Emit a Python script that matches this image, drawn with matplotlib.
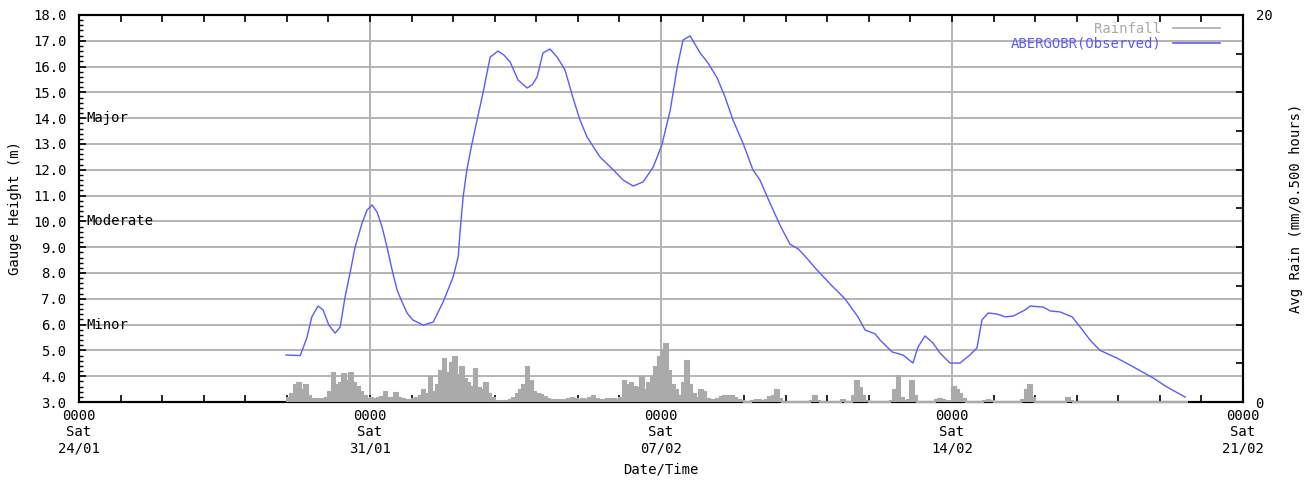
import matplotlib
matplotlib.use("Agg")
import matplotlib.pyplot as plt
import matplotlib.dates as mdates
from matplotlib.lines import Line2D
from matplotlib.ticker import MultipleLocator, FormatStrFormatter
import numpy as np
from datetime import datetime

plt.rcParams['font.family'] = ['DejaVu Sans Mono']
plt.rcParams['font.size'] = 10

start = datetime(2015, 1, 24)
end = datetime(2015, 2, 21)

# gauge readings: days after start, height in metres
obs_days = [4.98, 5.32, 5.48, 5.60, 5.75, 5.87, 6.01, 6.16, 6.28, 6.40,
            6.52, 6.64, 6.81, 6.93, 7.05, 7.17, 7.29, 7.41, 7.53, 7.65,
            7.77, 7.89, 8.03, 8.28, 8.52, 8.76, 9.00, 9.12, 9.17, 9.24,
            9.33, 9.45, 9.72, 9.89, 10.08, 10.22, 10.37, 10.56, 10.78, 10.90,
            11.02, 11.16, 11.33, 11.50, 11.69, 11.88, 12.05, 12.22, 12.53, 12.85,
            13.09, 13.33, 13.57, 13.81, 14.02, 14.22, 14.39, 14.53, 14.70, 14.94,
            15.13, 15.35, 15.54, 15.73, 15.97, 16.21, 16.38, 16.62, 16.86, 17.10,
            17.30, 17.46, 17.71, 18.07, 18.43, 18.74, 18.91, 19.15, 19.27, 19.56,
            19.82, 20.06, 20.18, 20.35, 20.54, 20.71, 20.95, 21.19, 21.43, 21.60,
            21.72, 21.87, 22.08, 22.28, 22.47, 22.76, 22.88, 23.19, 23.36, 23.60,
            23.89, 24.08, 24.32, 24.56, 24.97, 25.36, 25.84, 26.17, 26.61]
obs_level = [4.82, 4.80, 5.48, 6.30, 6.72, 6.57, 5.98, 5.67, 5.90, 7.07,
             8.00, 9.00, 9.94, 10.44, 10.64, 10.36, 9.78, 9.00, 8.12, 7.34,
             6.88, 6.45, 6.18, 5.98, 6.10, 6.88, 7.85, 8.62, 9.67, 10.95,
             12.00, 13.00, 15.00, 16.37, 16.60, 16.45, 16.18, 15.48, 15.17, 15.29,
             15.60, 16.53, 16.68, 16.37, 15.87, 14.80, 13.93, 13.27, 12.50, 12.00,
             11.60, 11.37, 11.53, 12.10, 12.96, 14.30, 15.98, 17.03, 17.19, 16.53,
             16.14, 15.56, 14.82, 13.93, 13.04, 12.00, 11.60, 10.71, 9.86, 9.12,
             8.93, 8.66, 8.19, 7.57, 6.99, 6.29, 5.79, 5.64, 5.40, 4.94,
             4.82, 4.51, 5.13, 5.56, 5.29, 4.90, 4.51, 4.51, 4.82, 5.10,
             6.18, 6.45, 6.41, 6.30, 6.33, 6.57, 6.72, 6.68, 6.53, 6.49,
             6.30, 5.91, 5.40, 5.00, 4.70, 4.36, 3.93, 3.58, 3.19]

# rainfall in 2-hour bins from day 5, one row per day
rain_start_day = 5.0
rain_step_hours = 2
rain_mm = [
    0.2, 0.4, 0.9, 1.0, 0.6, 0.9, 0.3, 0.15, 0.15, 0.15, 0.15, 0.2,
    0.5, 1.5, 0.9, 1.0, 1.45, 1.1, 1.5, 1.0, 0.8, 0.5, 0.3, 0.15,
    0.2, 0.15, 0.2, 0.25, 0.5, 0.2, 0.2, 0.45, 0.2, 0.15, 0.1, 0.1,
    0.15, 0.2, 0.3, 0.6, 0.4, 1.3, 0.5, 0.9, 1.6, 2.2, 1.5, 2.0,
    2.3, 1.4, 1.8, 1.2, 1.0, 0.8, 1.7, 0.7, 0.6, 1.0, 0.4, 0.2,
    0.05, 0.03, 0.03, 0.05, 0.1, 0.2, 0.4, 0.6, 0.9, 1.8, 1.1, 0.5,
    0.4, 0.35, 0.25, 0.15, 0.1, 0.1, 0.1, 0.12, 0.1, 0.15, 0.2, 0.15,
    0.1, 0.15, 0.1, 0.2, 0.3, 0.15, 0.1, 0.1, 0.15, 0.15, 0.15, 0.1,
    0.2, 1.1, 0.9, 1.0, 0.8, 0.7, 1.3, 0.6, 1.0, 1.3, 1.8, 2.3,
    2.7, 3.0, 1.6, 0.9, 0.6, 0.3, 1.0, 2.1, 0.9, 0.4, 0.2, 0.6,
    0.5, 0.15, 0.1, 0.1, 0.15, 0.25, 0.3, 0.3, 0.3, 0.2, 0.1, 0.05,
    0.02, 0.02, 0.05, 0.08, 0.08, 0.05, 0.1, 0.25, 0.3, 0.6, 0.15, 0.02,
    0.02, 0.0, 0.0, 0.0, 0.0, 0.0, 0.0, 0.05, 0.3, 0.05, 0.0, 0.0,
    0.0, 0.0, 0.0, 0.0, 0.1, 0.0, 0.0, 0.3, 1.1, 0.7, 0.3, 0.05,
    0.0, 0.0, 0.0, 0.0, 0.0, 0.0, 0.05, 0.6, 1.35, 0.2, 0.05, 0.1,
    1.1, 0.3, 0.0, 0.0, 0.0, 0.0, 0.0, 0.1, 0.15, 0.1, 0.05, 0.05,
    0.8, 0.6, 0.4, 0.15, 0.02, 0.0, 0.0, 0.0, 0.0, 0.05, 0.08, 0.05,
    0.0, 0.0, 0.0, 0.0, 0.0, 0.0, 0.0, 0.0, 0.1, 0.6, 0.9, 0.2,
    0.0, 0.0, 0.0, 0.0, 0.0, 0.0, 0.0, 0.0, 0.0, 0.2, 0.05, 0.0,
    0.0, 0.0, 0.0, 0.0, 0.0, 0.0, 0.0, 0.0, 0.0, 0.0, 0.0, 0.0,
    0.0, 0.0, 0.0, 0.0, 0.0, 0.0, 0.0, 0.0, 0.0, 0.0, 0.0, 0.0,
    0.0, 0.0, 0.0, 0.0, 0.0, 0.0, 0.0, 0.0,
]

flood_levels = [6.0, 10.0, 14.0]
flood_names = ["Minor", "Moderate", "Major"]

obs_color = "#5a5aff"
rain_color = "#aaaaaa"
grid_color = "#b4b4b4"

t0 = mdates.date2num(start)
obs_x = t0 + np.array(obs_days)
rain_edges = t0 + rain_start_day + np.arange(len(rain_mm) + 1) * rain_step_hours / 24.0

fig = plt.figure(figsize=(13.06, 4.83), dpi=100)
ax = fig.add_axes([0.0605, 0.1677, 0.8913, 0.8013])
ax2 = ax.twinx()

# level axis
ax.set_ylim(3.0, 18.0)
ax.yaxis.set_major_locator(MultipleLocator(1.0))
ax.yaxis.set_minor_locator(MultipleLocator(0.2))
ax.yaxis.set_major_formatter(FormatStrFormatter("%.1f"))
ax.set_xlim(t0, mdates.date2num(end))
ax.xaxis.set_major_locator(mdates.WeekdayLocator(byweekday=mdates.SA))
ax.xaxis.set_minor_locator(mdates.DayLocator())
ax.xaxis.set_major_formatter(mdates.DateFormatter("%H%M\n%a\n%d/%m"))
ax.grid(True, which="major", color=grid_color, lw=1.4)
ax.set_axisbelow(True)
ax.tick_params(axis="x", which="both", direction="in", top=True, length=5, width=1.2, pad=5)
ax.tick_params(axis="y", which="major", direction="in", length=5, width=1.2, pad=9)
ax.tick_params(axis="y", which="minor", direction="in", length=3, width=1)
for lbl in ax.get_xticklabels():
    lbl.set_ha("center")
for s in ax.spines.values():
    s.set_linewidth(1.5)

ax.plot(obs_x, obs_level, color=obs_color, lw=1.0, zorder=4)

for lvl, name in zip(flood_levels, flood_names):
    ax.text(0.006, lvl, name, transform=ax.get_yaxis_transform(), va="center", ha="left")

ax.set_xlabel("Date/Time", labelpad=5)
ax.set_ylabel("Gauge Height (m)", labelpad=8)

# rainfall axis
ax2.stairs(rain_mm, rain_edges, fill=True, color=rain_color, lw=0, zorder=3)
ax2.stairs(rain_mm, rain_edges, baseline=0, color=rain_color, lw=1.5, zorder=3, clip_on=False)
ax2.set_ylim(0, 20)
ax2.yaxis.set_major_locator(MultipleLocator(2))
ax2.yaxis.set_major_formatter(lambda v, p: f"{v:.0f}" if v in (0, 20) else "")
ax2.tick_params(axis="y", direction="in", length=5, width=1.2, pad=9)
ax2.set_ylabel("Avg Rain (mm/0.500 hours)", labelpad=12)
for s in ax2.spines.values():
    s.set_linewidth(1.5)

handles = [Line2D([], [], color=rain_color, lw=1.2), Line2D([], [], color=obs_color, lw=1.2)]
ax.legend(handles, ["Rainfall", "ABERGOBR(Observed)"], loc="upper right",
          bbox_to_anchor=(0.986, 1.0), frameon=False, markerfirst=False,
          labelcolor="linecolor", handlelength=3.4, labelspacing=0.05,
          borderaxespad=0.2, borderpad=0.3, handletextpad=0.8)

fig.savefig("out.png", dpi=100)
